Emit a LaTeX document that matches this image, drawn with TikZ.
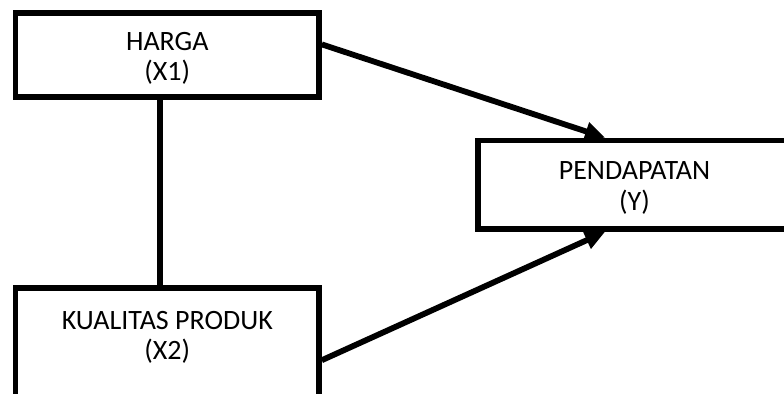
\documentclass[tikz,border=0pt]{standalone}
\usepackage{fontspec}
\setmainfont{Carlito}
\usetikzlibrary{arrows.meta}
\tikzset{
  box/.style={draw,line width=2.8pt,inner sep=0pt},
  label text/.style={inner sep=0pt,align=center,yshift=-1.6pt,
    font=\fontsize{14}{15.2}\selectfont},
  link/.style={line width=2.9pt},
  arrow/.style={link,-{Triangle[length=10pt,width=9pt]}}
}

\begin{document}
\begin{tikzpicture}[x=0.5pt,y=-0.5pt]
    \useasboundingbox (0,0) rectangle (784,394);
    \clip (0,0) rectangle (784,394);

    \node [box, minimum width=151.7pt, minimum height=41.9pt] (harga) at (167.3,55.2) {};
    \node [box, minimum width=151.7pt, minimum height=56pt] (kualitas) at (167.3,344) {};
    \node [box, minimum width=156.5pt, minimum height=44.3pt] (pendapatan) at (634.5,184.8) {};

    \node [label text] (hargatext) at (harga) {HARGA\\(X1)};
    \node [label text] (kualitastext) at (167.3,334) {KUALITAS PRODUK\\(X2)};
    \node [label text] (pendapatantext) at (pendapatan) {PENDAPATAN\\(Y)};

    \draw [link] ([xshift=-3.5pt]harga.south) -- ([xshift=-3.5pt]kualitas.north);
    \draw [arrow] (harga.4) -- (pendapatan.122);
    \draw [arrow] (kualitas.-6) -- (pendapatan.-122);
\end{tikzpicture}
\end{document}
